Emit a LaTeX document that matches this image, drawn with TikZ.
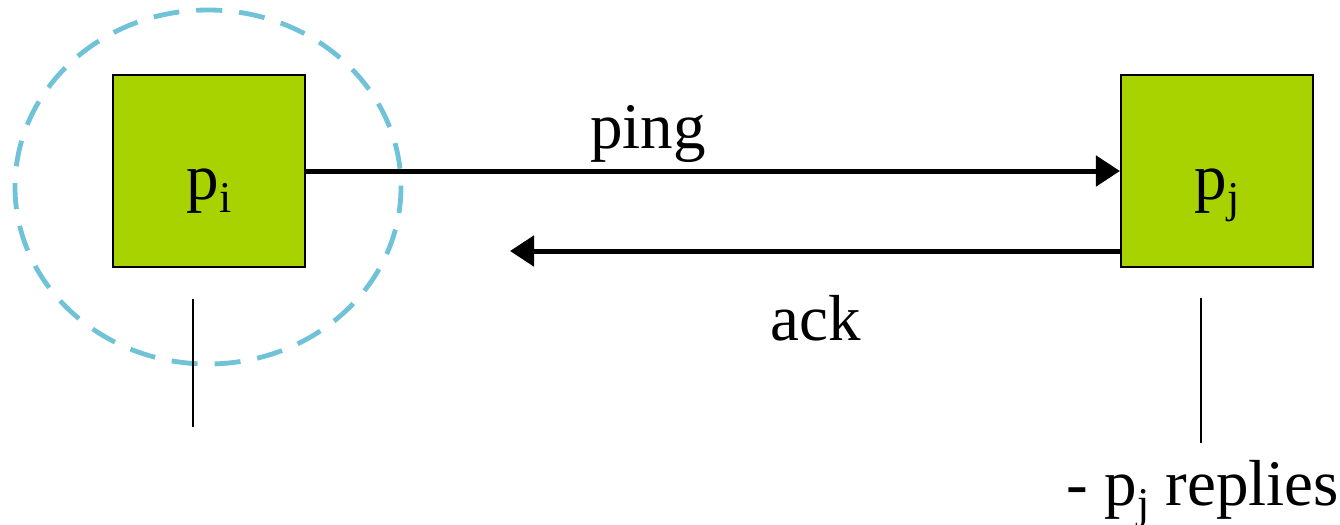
\documentclass[tikz,border=0pt]{standalone}
\usepackage{fontspec}
\setmainfont{Liberation Serif}
\usetikzlibrary{arrows.meta}
\definecolor{boxgreen}{RGB}{168,210,0}
\definecolor{ringblue}{RGB}{112,194,216}
\newcommand\lowsub[1]{\raisebox{-0.2em}{\fontsize{12.5}{14}\selectfont #1}}
\tikzset{
  txt/.style={font=\fontsize{18.5}{21}\selectfont},
  procbox/.style={txt, draw=black, line width=0.02cm, fill=boxgreen, minimum size=1.92cm, inner sep=0pt,
    text height=0.56cm, text depth=0cm},
  msg/.style={line width=0.05cm, -{Triangle[length=0.24cm,width=0.3cm]}},
  msglabel/.style={txt, anchor=base, inner sep=0pt},
  timeline/.style={line width=0.02cm},
  ring/.style={draw=ringblue, line width=0.048cm, dash pattern=on 0.26cm off 0.17cm}
}
\begin{document}
\begin{tikzpicture}[x=0.01cm, y=-0.01cm]
\useasboundingbox (0,0) rectangle (1340,524);
\draw[ring] (208,187) ellipse [x radius=193, y radius=177];
\node[procbox] (pi) at (209,171) {p\lowsub{i}};
\node[procbox] (pj) at (1217,171) {p\lowsub{j}};
\draw[msg] (pi.east) -- (pj.west);
\coordinate (ackend) at (510,251);
\draw[msg] (pj.west |- ackend) -- (ackend);
\node[msglabel] (ping) at (648,148) {ping};
\node[msglabel] (ack) at (816,340) {ack};
\coordinate (tli1) at (193,299);
\coordinate (tli2) at (193,427);
\draw[timeline] (tli1) -- (tli2);
\coordinate (tlj1) at (1201,298);
\coordinate (tlj2) at (1201,443);
\draw[timeline] (tlj1) -- (tlj2);
\node[txt, anchor=base west, inner sep=0pt] (replies) at (1066,505) {- p\lowsub{j} replies};
\end{tikzpicture}
\end{document}
